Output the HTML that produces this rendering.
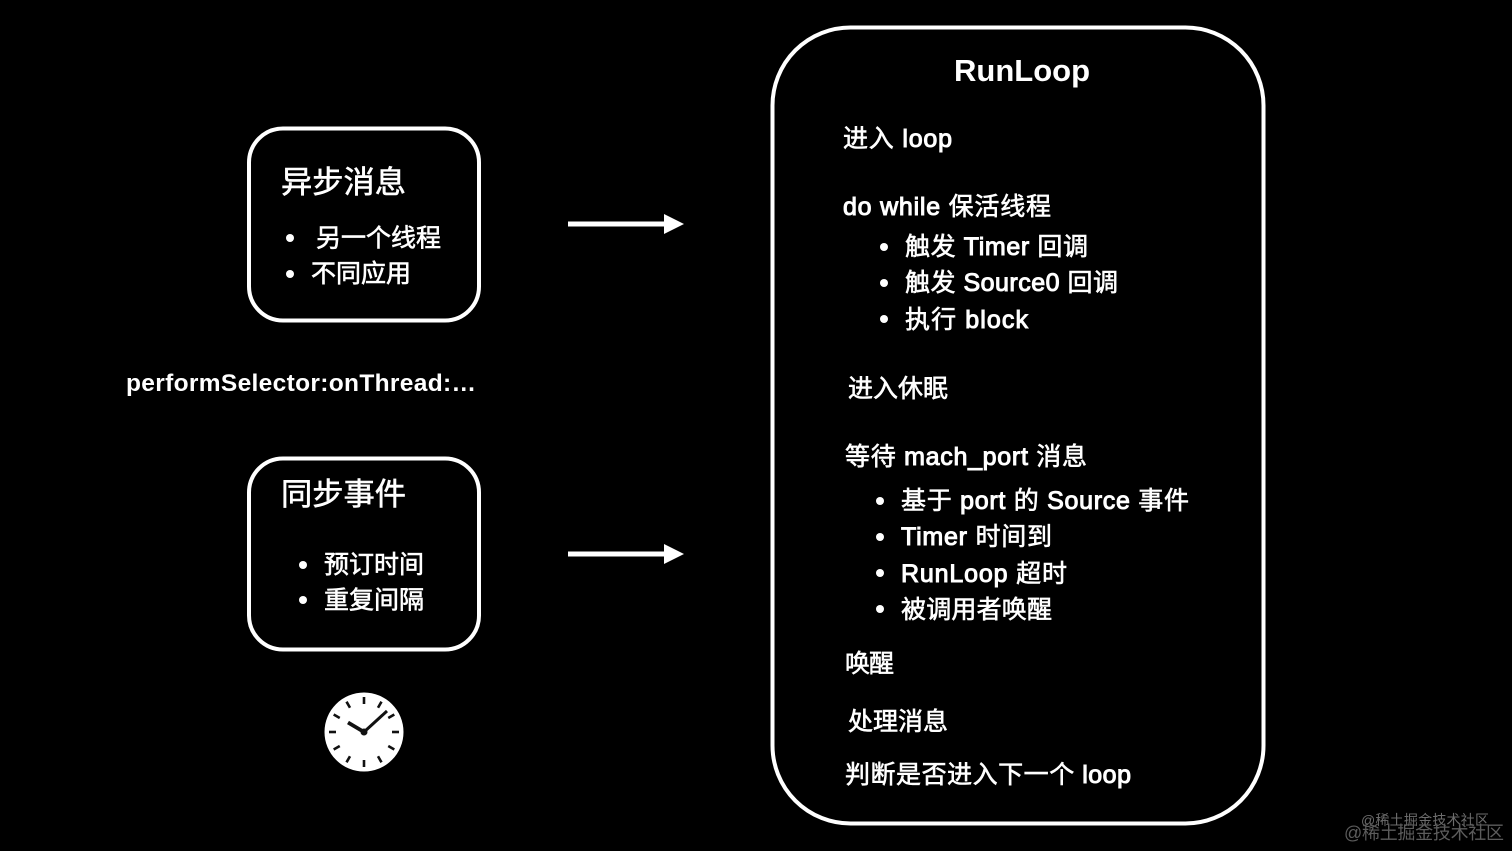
<!DOCTYPE html>
<html><head><meta charset="utf-8">
<style>
html,body{margin:0;padding:0;background:#000;width:1512px;height:851px;overflow:hidden}
svg{display:block}
text{font-family:"Liberation Sans","Noto Sans CJK SC",sans-serif;fill:#fff;stroke:#fff;stroke-width:.6px;font-size:25px}
tspan.l{stroke-width:1px}
.t{font-size:31.25px}
.w1{font-size:14px;fill:#6c6c6c;stroke:none}
.w2{font-size:18px;fill:#5c5c5c;stroke:none}
</style></head><body>
<svg width="1512" height="851" viewBox="0 0 1512 851" xmlns="http://www.w3.org/2000/svg">
<rect width="1512" height="851" fill="#000"/>
<g fill="none" stroke="#fff" stroke-width="4">
<rect x="249" y="128.500" width="230" height="192" rx="34"/>
<rect x="249" y="458.500" width="230" height="191" rx="34"/>
<rect x="772.500" y="27.500" width="491" height="796" rx="78"/>
</g>
<g fill="#fff">
<rect x="568" y="221.500" width="98" height="5"/><path d="M664 214L684 224L664 234Z"/>
<rect x="568" y="551.500" width="98" height="5"/><path d="M664 544L684 554L664 564Z"/>
<circle cx="290" cy="238" r="4"/><circle cx="290" cy="274" r="4"/>
<circle cx="303" cy="565" r="4"/><circle cx="303" cy="600" r="4"/>
<circle cx="884" cy="247" r="4"/><circle cx="884" cy="283" r="4"/><circle cx="884" cy="319" r="4"/>
<circle cx="880" cy="501" r="4"/><circle cx="880" cy="537" r="4"/><circle cx="880" cy="573" r="4"/><circle cx="880" cy="609" r="4"/>
<circle cx="364" cy="732" r="39.500"/>
</g>
<g stroke="#111" stroke-width="2.600" transform="translate(364 732)">
<path d="M0-35V-28"/>
<path d="M0-35V-28" transform="rotate(30)"/><path d="M0-35V-28" transform="rotate(60)"/><path d="M0-35V-28" transform="rotate(90)"/>
<path d="M0-35V-28" transform="rotate(120)"/><path d="M0-35V-28" transform="rotate(150)"/><path d="M0-35V-28" transform="rotate(180)"/>
<path d="M0-35V-28" transform="rotate(210)"/><path d="M0-35V-28" transform="rotate(240)"/><path d="M0-35V-28" transform="rotate(270)"/>
<path d="M0-35V-28" transform="rotate(300)"/><path d="M0-35V-28" transform="rotate(330)"/>
<path d="M0 0L-16-9.500" stroke-width="3.800"/><path d="M0 0L23-21" stroke-width="3"/>
<circle r="3.500" fill="#111" stroke="none"/>
</g>
<text class="t" x="281" y="193" textLength="125">异步消息</text>
<text x="316" y="246.500" textLength="125">另一个线程</text>
<text x="311" y="282" textLength="100">不同应用</text>
<text x="126" y="391" textLength="350" style="font-size:24.500px;font-weight:bold;stroke:none">performSelector:onThread:…</text>
<text class="t" x="281" y="505" textLength="125">同步事件</text>
<text x="324" y="573" textLength="100">预订时间</text>
<text x="324" y="608.500" textLength="100">重复间隔</text>
<text x="954" y="81" textLength="136" style="font-size:31px;font-weight:bold;stroke:none">RunLoop</text>
<text x="843" y="147" textLength="109">进入 <tspan class="l">loop</tspan></text>
<text x="843" y="215" textLength="208"><tspan class="l">do while</tspan> 保活线程</text>
<text x="905" y="255" textLength="183">触发 <tspan class="l">Timer</tspan> 回调</text>
<text x="905" y="291" textLength="213">触发 <tspan class="l">Source0</tspan> 回调</text>
<text x="905" y="328" textLength="123">执行 <tspan class="l">block</tspan></text>
<text x="848" y="397" textLength="100">进入休眠</text>
<text x="845" y="465" textLength="242">等待 <tspan class="l">mach_port</tspan> 消息</text>
<text x="901" y="509" textLength="288">基于 <tspan class="l">port</tspan> 的 <tspan class="l">Source</tspan> 事件</text>
<text x="901" y="545" textLength="151"><tspan class="l">Timer</tspan> 时间到</text>
<text x="901" y="582" textLength="166"><tspan class="l">RunLoop</tspan> 超时</text>
<text x="901" y="618" textLength="151">被调用者唤醒</text>
<text x="845" y="672" textLength="49">唤醒</text>
<text x="848" y="730" textLength="100">处理消息</text>
<text x="845" y="783" textLength="286">判断是否进入下一个 <tspan class="l">loop</tspan></text>
<text class="w1" x="1361" y="825" textLength="128">@稀土掘金技术社区</text>
<text class="w2" x="1344" y="839" textLength="160">@稀土掘金技术社区</text>
</svg>
</body></html>
